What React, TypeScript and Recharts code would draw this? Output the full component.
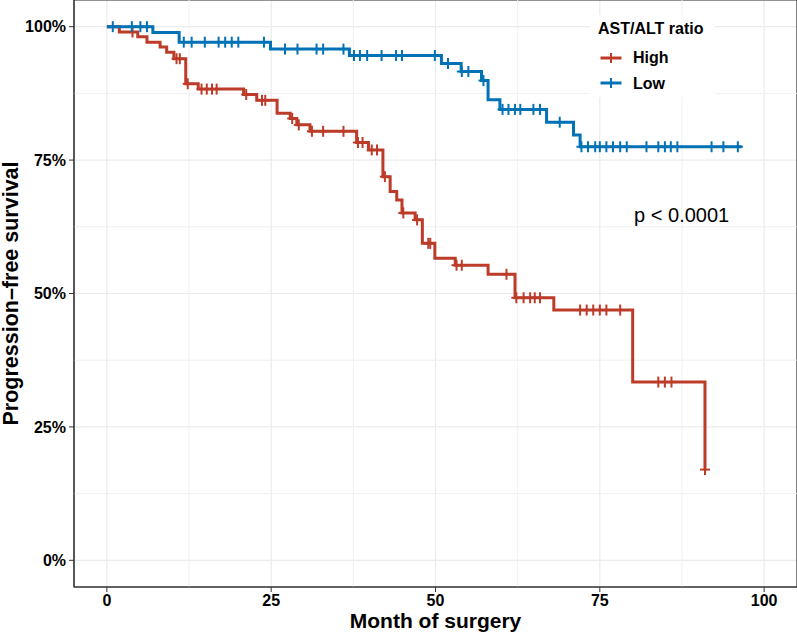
import {
  ComposedChart,
  Line,
  Scatter,
  XAxis,
  YAxis,
  CartesianGrid,
  ReferenceLine,
  ReferenceArea,
  ReferenceDot,
  Legend,
} from 'recharts';

const FONT = '"Liberation Sans", Arial, Helvetica, sans-serif';

// Kaplan-Meier steps (time in months, survival fraction)
const HIGH_TIMES = [0, 1.9, 4.7, 6.1, 8.1, 9.1, 10.2, 12.0, 13.9, 20.8, 22.8, 25.9, 27.9, 28.9, 30.9, 38.0, 39.8, 42.0, 43.1, 44.1, 44.9, 46.9, 48.0, 49.9, 53.0, 58.0, 62.1, 68.0, 80.0, 91.0];
const HIGH_SURV = [1.0, 0.99, 0.981, 0.971, 0.962, 0.952, 0.94, 0.893, 0.883, 0.873, 0.862, 0.838, 0.828, 0.816, 0.804, 0.783, 0.769, 0.719, 0.691, 0.675, 0.651, 0.638, 0.594, 0.566, 0.553, 0.536, 0.492, 0.469, 0.334, 0.17];
const HIGH_CENSOR = [3.9, 10.6, 11.1, 12.3, 14.4, 15.2, 16.0, 16.7, 21.2, 23.6, 24.1, 28.2, 29.2, 31.2, 32.9, 36.0, 38.2, 38.9, 40.3, 41.1, 42.3, 45.1, 47.2, 48.9, 49.2, 53.2, 54.0, 60.8, 62.3, 63.4, 64.4, 65.1, 65.9, 72.0, 73.0, 74.0, 75.0, 76.0, 78.1, 83.9, 84.9, 85.9, 91.0];

const LOW_TIMES = [0, 7.0, 11.0, 24.9, 36.9, 50.9, 53.9, 57.0, 58.0, 59.8, 66.9, 71.0, 72.0, 96.6];
const LOW_SURV = [1.0, 0.989, 0.971, 0.958, 0.946, 0.931, 0.916, 0.899, 0.863, 0.845, 0.821, 0.797, 0.775, 0.775];
const LOW_CENSOR = [0.9, 3.8, 5.1, 6.1, 11.7, 12.9, 14.9, 17.0, 18.0, 19.0, 20.0, 23.9, 27.1, 29.0, 31.9, 32.9, 36.0, 37.6, 38.5, 39.6, 41.8, 44.0, 44.9, 49.9, 51.9, 54.0, 55.0, 57.3, 60.2, 61.1, 62.1, 62.9, 64.9, 65.9, 68.9, 72.2, 73.2, 74.3, 75.0, 76.0, 77.0, 78.1, 79.1, 82.1, 83.9, 84.9, 85.8, 86.8, 92.0, 93.8, 96.0];

const X_TICKS = [0, 25, 50, 75, 100];
const X_MINOR = [12.5, 37.5, 62.5, 87.5];
const Y_TICKS = [0, 0.25, 0.5, 0.75, 1];
const Y_MINOR = [0.125, 0.375, 0.625, 0.875];

const RED = '#BC3C29';
const BLUE = '#0072B5';

const toSteps = (times: number[], surv: number[]) => times.map((t, i) => ({ t, s: surv[i] }));

const levelAt = (times: number[], surv: number[], t: number) => {
  let s = surv[0];
  times.forEach((tt, i) => {
    if (tt <= t) s = surv[i];
  });
  return s;
};

const toCensor = (times: number[], surv: number[], censor: number[]) =>
  censor.map((t) => ({ t, s: levelAt(times, surv, t) }));

const SERIES = [
  { name: 'High', color: RED, steps: toSteps(HIGH_TIMES, HIGH_SURV), censor: toCensor(HIGH_TIMES, HIGH_SURV, HIGH_CENSOR) },
  { name: 'Low', color: BLUE, steps: toSteps(LOW_TIMES, LOW_SURV), censor: toCensor(LOW_TIMES, LOW_SURV, LOW_CENSOR) },
];

const cross = (color: string) => (props: any) => {
  const { cx, cy } = props;
  return (
    <g>
      <line x1={cx - 5} x2={cx + 5} y1={cy} y2={cy} stroke={color} strokeWidth={2} />
      <line x1={cx} x2={cx} y1={cy - 5.5} y2={cy + 5.5} stroke={color} strokeWidth={2} />
    </g>
  );
};

function KmLegend() {
  return (
    <div style={{ position: 'relative', width: 125, height: 82, background: '#fff', fontFamily: FONT, fontWeight: 'bold', color: '#000' }}>
      <div style={{ position: 'absolute', left: 8, top: 5.5, fontSize: 16, lineHeight: '16px', whiteSpace: 'nowrap' }}>AST/ALT ratio</div>
      {SERIES.map((s, i) => (
        <div key={s.name}>
          <svg style={{ position: 'absolute', left: 10, top: 36.5 + i * 25.5 }} width={22} height={12}>
            <line x1={0.5} x2={21.5} y1={6} y2={6} stroke={s.color} strokeWidth={3} />
            <line x1={11} x2={11} y1={1} y2={11} stroke={s.color} strokeWidth={2} />
          </svg>
          <div style={{ position: 'absolute', left: 43, top: 34.7 + i * 26, fontSize: 16, lineHeight: '16px' }}>{s.name}</div>
        </div>
      ))}
    </div>
  );
}

export default function App() {
  return (
    <div style={{ position: 'absolute', left: 0, top: 0, width: 797, height: 634, background: '#fff' }}>
      <ComposedChart width={797} height={634} margin={{ top: 0, right: 0, bottom: 0, left: 0 }}>
        <CartesianGrid stroke="#EBEBEB" strokeWidth={1.2} />
        {X_MINOR.map((v) => (
          <ReferenceLine key={`xm-${v}`} x={v} stroke="#F0F0F0" strokeWidth={1} />
        ))}
        {Y_MINOR.map((v) => (
          <ReferenceLine key={`ym-${v}`} y={v} stroke="#F0F0F0" strokeWidth={1} />
        ))}
        <XAxis
          type="number"
          dataKey="t"
          domain={[-5, 105]}
          ticks={X_TICKS}
          allowDataOverflow
          height={47}
          tickSize={5}
          tickMargin={3}
          stroke="#333"
          tick={{ fill: '#000', fontSize: 16, fontWeight: 'bold', fontFamily: FONT }}
          label={{ value: 'Month of surgery', position: 'insideBottom', offset: 6, fill: '#000', fontSize: 21, fontWeight: 'bold', fontFamily: FONT }}
        />
        <YAxis
          type="number"
          dataKey="s"
          domain={[-0.05, 1.05]}
          ticks={Y_TICKS}
          allowDataOverflow
          width={74}
          tickSize={5}
          tickMargin={3}
          stroke="#333"
          tickFormatter={(v: number) => `${Math.round(v * 100)}%`}
          tick={{ fill: '#000', fontSize: 16, fontWeight: 'bold', fontFamily: FONT }}
          label={{ value: 'Progression\u2013free survival', angle: -90, position: 'center', dx: -26.5, fill: '#000', fontSize: 21.5, fontWeight: 'bold', fontFamily: FONT }}
        />
        {SERIES.map((s) => (
          <Line
            key={`line-${s.name}`}
            data={s.steps}
            dataKey="s"
            name={s.name}
            type="stepAfter"
            stroke={s.color}
            strokeWidth={3}
            dot={false}
            activeDot={false}
            isAnimationActive={false}
          />
        ))}
        {SERIES.map((s) => (
          <Scatter
            key={`cens-${s.name}`}
            data={s.censor}
            dataKey="s"
            fill={s.color}
            shape={cross(s.color)}
            isAnimationActive={false}
            legendType="none"
          />
        ))}
        <ReferenceDot
          x={87.45}
          y={0.648}
          r={0}
          fill="none"
          stroke="none"
          label={{ value: 'p < 0.0001', position: 'center', fill: '#000', fontSize: 20, fontFamily: FONT }}
        />
        <ReferenceArea x1={-5} x2={105} y1={-0.05} y2={1.05} fill="none" stroke="#333" strokeWidth={1.2} />
        <Legend
          layout="horizontal"
          align="center"
          verticalAlign="middle"
          content={() => <KmLegend />}
          wrapperStyle={{ left: 590, top: 15, width: 125, height: 82 }}
        />
      </ComposedChart>
    </div>
  );
}
